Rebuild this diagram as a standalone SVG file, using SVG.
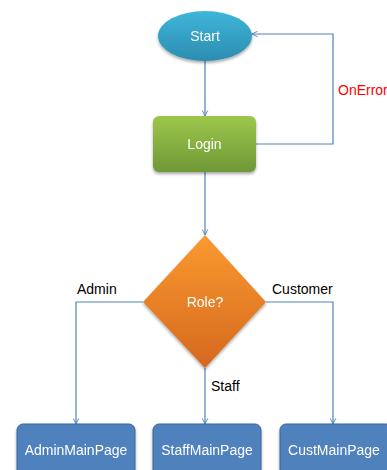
<svg xmlns="http://www.w3.org/2000/svg" width="387" height="470" viewBox="0 0 387 470">
<style>
.lbl{font-family:"Liberation Sans",Arial,sans-serif;font-size:14px}
.w{fill:#ffffff;text-anchor:middle}
.k{fill:#000000}
.conn{fill:none;stroke:#4F81BD;stroke-width:1.2}
.box{fill:#4F81BD;stroke:#3A679E;stroke-width:1}
</style>
<defs>
<linearGradient id="gStart" x1="0" y1="0" x2="0" y2="1"><stop offset="0" stop-color="#3FB6DA"/><stop offset="1" stop-color="#2B8CB0"/></linearGradient>
<linearGradient id="gLogin" x1="0" y1="0" x2="0" y2="1"><stop offset="0" stop-color="#9DC74B"/><stop offset="1" stop-color="#6F9837"/></linearGradient>
<linearGradient id="gRole" x1="0" y1="0" x2="0" y2="1"><stop offset="0" stop-color="#FA9A30"/><stop offset="1" stop-color="#D5681F"/></linearGradient>
<filter id="sh" x="-20%" y="-20%" width="140%" height="140%"><feGaussianBlur in="SourceAlpha" stdDeviation="1.5"/><feOffset dx="0" dy="2" result="b"/><feComponentTransfer><feFuncA type="linear" slope="0.35"/></feComponentTransfer><feMerge><feMergeNode/><feMergeNode in="SourceGraphic"/></feMerge></filter>
<marker id="arr" viewBox="0 0 10 10" refX="9" refY="5" markerWidth="7" markerHeight="7" orient="auto" markerUnits="userSpaceOnUse"><path d="M1,1 L9,5 L1,9" fill="none" stroke="#4F81BD" stroke-width="1.3"/></marker>
</defs>
<g id="connectors">
<path class="conn" d="M205,61 V116" marker-end="url(#arr)"/>
<path class="conn" d="M256,144 H333 V34 H252" marker-end="url(#arr)"/>
<path class="conn" d="M205,172 V235" marker-end="url(#arr)"/>
<path class="conn" d="M143,302 H76 V424" marker-end="url(#arr)"/>
<path class="conn" d="M205,368 V424" marker-end="url(#arr)"/>
<path class="conn" d="M266,302 H333 V424" marker-end="url(#arr)"/>
<text class="lbl" x="338" y="95" fill="#FF0000">OnError</text>
<text class="lbl k" x="77" y="294">Admin</text>
<text class="lbl k" x="272" y="294">Customer</text>
<text class="lbl k" x="211" y="391">Staff</text>
</g>
<g id="start" filter="url(#sh)">
<ellipse cx="205" cy="36" rx="47" ry="25" fill="url(#gStart)"/>
<text class="lbl w" x="205" y="41">Start</text>
</g>
<g id="login" filter="url(#sh)">
<rect x="153" y="116" width="103" height="56" rx="6" fill="url(#gLogin)"/>
<text class="lbl w" x="204.5" y="149">Login</text>
</g>
<g id="role" filter="url(#sh)">
<polygon points="205,235 266,302 205,368 143,302" fill="url(#gRole)"/>
<text class="lbl w" x="205" y="307">Role?</text>
</g>
<g id="adminMainPage" filter="url(#sh)">
<rect class="box" x="17" y="424" width="118" height="56" rx="6"/>
<text class="lbl w" x="76" y="455">AdminMainPage</text>
</g>
<g id="staffMainPage" filter="url(#sh)">
<rect class="box" x="153" y="424" width="108" height="56" rx="6"/>
<text class="lbl w" x="207" y="455">StaffMainPage</text>
</g>
<g id="custMainPage" filter="url(#sh)">
<rect class="box" x="280" y="424" width="112" height="56" rx="6"/>
<text class="lbl w" x="334" y="455">CustMainPage</text>
</g>
</svg>
